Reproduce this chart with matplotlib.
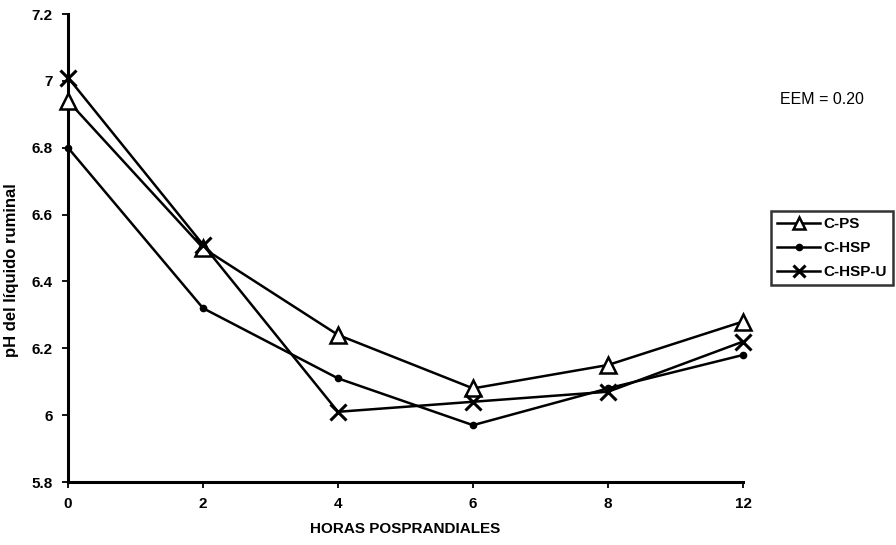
import matplotlib
matplotlib.use("Agg")
import matplotlib.pyplot as plt
import numpy as np

# datos
horas = ["0", "2", "4", "6", "8", "12"]
c_ps = [6.94, 6.50, 6.24, 6.08, 6.15, 6.28]
c_hsp = [6.80, 6.32, 6.11, 5.97, 6.08, 6.18]
c_hsp_u = [7.01, 6.51, 6.01, 6.04, 6.07, 6.22]
y_ticks = [5.8, 6.0, 6.2, 6.4, 6.6, 6.8, 7.0, 7.2]
y_labels = ["5.8", "6", "6.2", "6.4", "6.6", "6.8", "7", "7.2"]

plt.rcParams["font.family"] = ["Liberation Sans", "DejaVu Sans"]

W, H = 896, 545
fig = plt.figure(figsize=(W / 100, H / 100), dpi=100)
ax = fig.add_axes([68 / W, 1 - 482 / H, (743 - 68) / W, (482 - 14) / H])

x = np.arange(len(horas))
ax.plot(x, c_ps, color="black", lw=1.8, marker="^", ms=12, mfc="white",
        mec="black", mew=1.8, label="C-PS", clip_on=False, zorder=3)
ax.plot(x, c_hsp, color="black", lw=1.8, marker="o", ms=4.5,
        label="C-HSP", clip_on=False, zorder=3)
ax.plot(x, c_hsp_u, color="black", lw=1.8, marker="x", ms=11, mew=2.2,
        label="C-HSP-U", clip_on=False, zorder=3)

ax.set_xlim(0, len(horas) - 1)
ax.set_ylim(5.8, 7.2)
ax.set_xticks(x)
ax.set_xticklabels(horas, fontsize=11, fontweight="bold")
ax.set_yticks(y_ticks)
ax.set_yticklabels(y_labels, fontsize=11, fontweight="bold")
ax.tick_params(axis="both", direction="out", length=4, width=1.3, pad=7)

for s in ["top", "right"]:
    ax.spines[s].set_visible(False)
for s in ["left", "bottom"]:
    ax.spines[s].set_linewidth(2.2)

ax.set_xlabel("HORAS POSPRANDIALES", fontsize=11, fontweight="bold", labelpad=8)
ax.set_ylabel("pH del líquido ruminal", fontsize=12, fontweight="bold")
ax.yaxis.set_label_coords(-0.073, 0.453)

fig.text(780 / W, 1 - 100 / H, "EEM = 0.20", fontsize=11.5, va="center", ha="left")

leg = ax.legend(loc="upper left", bbox_to_anchor=(771 / W, 1 - 211 / H),
                bbox_transform=fig.transFigure, frameon=True, fancybox=False,
                edgecolor="black", fontsize=11, handlelength=2.8,
                borderpad=0.4, labelspacing=0.65, handletextpad=0.25,
                borderaxespad=0)
leg.get_frame().set_linewidth(1.8)
for t in leg.get_texts():
    t.set_fontweight("bold")
for h, ms in zip(leg.legend_handles, [8, 4.5, 8]):
    h.set_markersize(ms)

fig.savefig("out.png", dpi=100)
